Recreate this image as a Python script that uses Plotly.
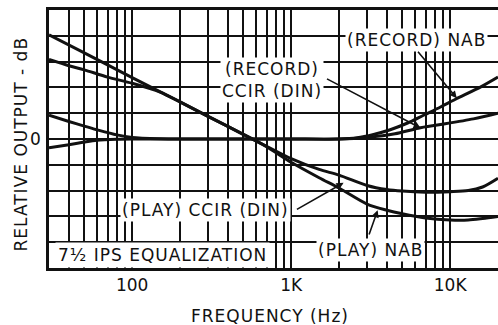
import numpy as np
import plotly.graph_objects as go

# ---------------- data ----------------
play_ccir_f = [30, 50, 100, 200, 300, 500, 700, 1000, 1500, 2000, 3000, 4000, 5000, 7000, 10000, 13000, 16000, 20000]
play_ccir_db = [20.2, 16.7, 11.9, 7.2, 4.4, 0.9, -1.4, -3.8, -5.9, -7.0, -9.0, -9.8, -10.1, -10.3, -10.2, -10.0, -9.3, -7.6]

play_nab_f = [30, 40, 50, 70, 100, 150, 200, 300, 500, 700, 1000, 1500, 2000, 3000, 4000, 5000, 7000, 10000, 13000, 16000, 20000]
play_nab_db = [15.4, 14.2, 13.4, 12.0, 10.8, 9.1, 7.2, 4.4, 0.9, -1.5, -4.5, -7.5, -9.5, -12.6, -13.8, -14.5, -15.3, -15.7, -15.7, -15.4, -15.0]

rec_nab_f = [30, 40, 50, 60, 80, 100, 150, 200, 500, 1000, 2000, 2600, 3300, 4200, 5400, 6800, 8700, 10800, 15600, 20000]
rec_nab_db = [4.6, 3.4, 2.5, 1.8, 0.8, 0.3, 0.05, 0.0, 0.0, 0.0, 0.0, 0.25, 0.9, 1.8, 3.1, 4.6, 6.2, 7.7, 10.1, 12.0]

rec_ccir_f = [30, 40, 50, 60, 80, 100, 200, 500, 1000, 2000, 3000, 4500, 6300, 8700, 14000, 20000]
rec_ccir_db = [-1.7, -1.1, -0.6, -0.25, -0.05, 0.0, 0.0, 0.0, 0.0, 0.0, 0.3, 1.0, 2.1, 2.8, 3.9, 5.0]

grid_f = [40, 50, 60, 70, 80, 90, 100, 200, 300, 400, 500, 600, 700, 800, 900,
          1000, 2000, 3000, 4000, 5000, 6000, 7000, 8000, 9000, 10000]
x_tick_labels = {100: "100", 1000: "1K", 10000: "10K"}
grid_db = [-20, -15, -10, -5, 0, 5, 10, 15, 20]
y_tick_labels = {0: "0"}

FONT = "DejaVu Sans"
INK = "#111111"
FS = 17


def spaced(s):
    return '<span style="letter-spacing:1px">' + s + '</span>'


fig = go.Figure()
for f, v, name in [(play_ccir_f, play_ccir_db, "(PLAY) CCIR (DIN)"),
                   (play_nab_f, play_nab_db, "(PLAY) NAB"),
                   (rec_nab_f, rec_nab_db, "(RECORD) NAB"),
                   (rec_ccir_f, rec_ccir_db, "(RECORD) CCIR (DIN)")]:
    fig.add_trace(go.Scatter(x=f, y=v, mode="lines", name=name,
                             line=dict(color=INK, width=3, shape="spline", smoothing=0.8),
                             hoverinfo="skip"))

fig.update_layout(
    width=498, height=325,
    margin=dict(l=49, r=0, t=10, b=57),
    paper_bgcolor="white", plot_bgcolor="white",
    showlegend=False,
    font=dict(family=FONT, size=FS, color=INK),
)
fig.update_xaxes(
    type="log", range=[np.log10(30), np.log10(20000)],
    tickmode="array", tickvals=grid_f,
    ticktext=[x_tick_labels.get(f, "") for f in grid_f],
    showgrid=True, gridcolor=INK, gridwidth=1.6,
    showline=True, linecolor=INK, linewidth=2.5, mirror=True,
    ticks="", ticklabelstandoff=0, zeroline=False, automargin=False,
    tickfont=dict(family=FONT, size=FS, color=INK),
)
fig.update_yaxes(
    range=[-25, 25],
    tickmode="array", tickvals=grid_db,
    ticktext=[y_tick_labels.get(v, "") for v in grid_db],
    showgrid=True, gridcolor=INK, gridwidth=1.6,
    showline=True, linecolor=INK, linewidth=2.5, mirror=True,
    ticks="", ticklabelstandoff=2, zeroline=False, automargin=False,
    tickfont=dict(family=FONT, size=FS, color=INK),
)

lg = np.log10

# axis titles
fig.add_annotation(text=spaced("RELATIVE OUTPUT - dB"), xref="paper", yref="paper",
                   x=(20 - 49) / 449, y=(268 - 144.5) / 258, textangle=-90,
                   showarrow=False, xanchor="center", yanchor="middle",
                   font=dict(size=FS))
fig.add_annotation(text=spaced("FREQUENCY (Hz)"), xref="paper", yref="paper",
                   x=(270 - 49) / 449, y=(268 - 316) / 258,
                   showarrow=False, xanchor="center", yanchor="middle",
                   font=dict(size=FS))

# curve labels (white boxes hide the grid)
labels = [
    ("(RECORD) NAB", 6160, 19.2),
    ("(RECORD)<br>CCIR (DIN)", 760, 11.4),
    ("(PLAY) CCIR (DIN)", 290, -13.8),
    ("(PLAY) NAB", 3160, -21.6),
]
for t, f, v in labels:
    txt = "<br>".join(spaced(p) for p in t.split("<br>"))
    fig.add_annotation(text=txt, x=lg(f), y=v, xref="x", yref="y", showarrow=False,
                       bgcolor="white", borderpad=1, font=dict(size=FS))

fig.add_annotation(text=spaced("7½ IPS EQUALIZATION"), x=lg(156), y=-22.5, xref="x", yref="y",
                   showarrow=False, bgcolor="white", borderpad=2, font=dict(size=FS))

# leader arrows: (tail_f, tail_db, tip_f, tip_db)
arrows = [
    (10 ** 3.790, 17.2, 10 ** 4.042, 7.9),
    (10 ** 3.216, 11.8, 10 ** 3.815, 2.1),
    (10 ** 3.027, -13.8, 10 ** 3.330, -8.5),
    (10 ** 3.487, -18.8, 10 ** 3.544, -13.8),
]
for tf, tv, hf, hv in arrows:
    fig.add_annotation(text="", x=lg(hf), y=hv, ax=lg(tf), ay=tv,
                       xref="x", yref="y", axref="x", ayref="y",
                       showarrow=True, arrowhead=2, arrowsize=0.9,
                       arrowwidth=1.6, arrowcolor=INK, standoff=0, startstandoff=0)

fig.write_html("out.html", config={"displayModeBar": False},
               post_script="document.body.style.margin='0';document.body.style.overflow='hidden';")
